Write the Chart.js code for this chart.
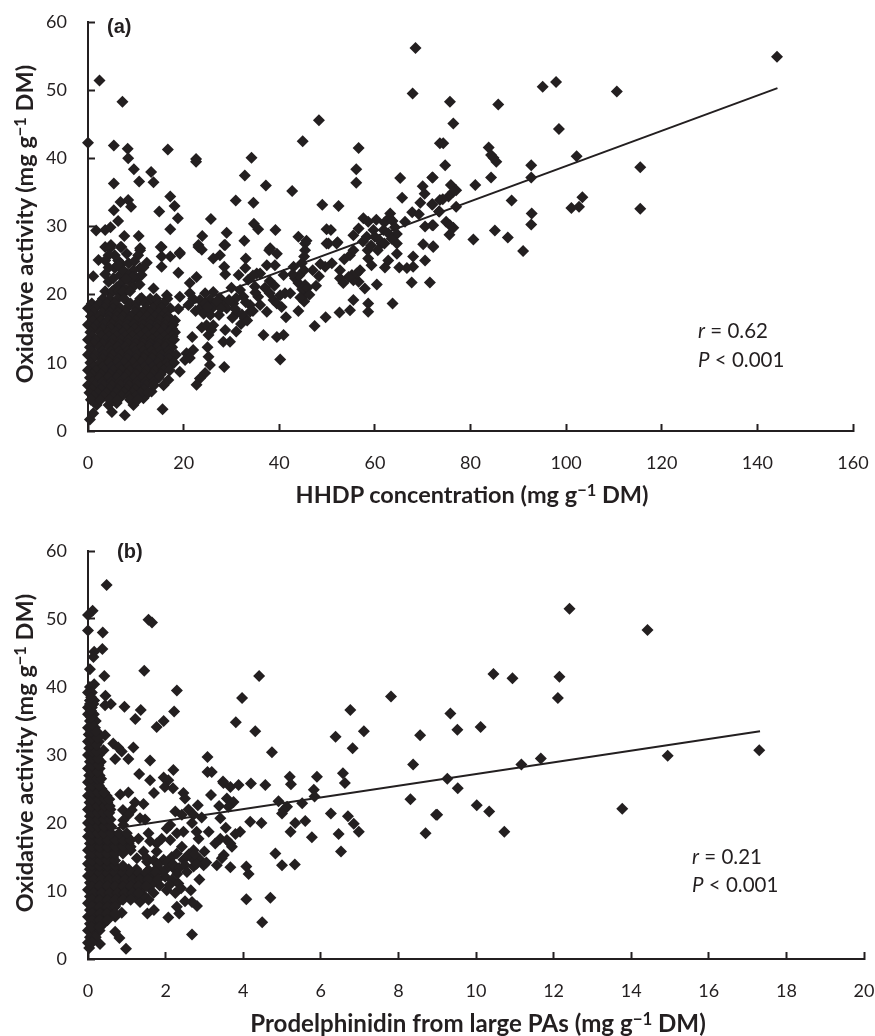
<!DOCTYPE html>
<html>
<head>
<meta charset="utf-8">
<script src="https://cdn.jsdelivr.net/npm/chart.js@4"></script>
<style>
  html, body { margin: 0; padding: 0; background: #fff; }
  body { position: relative; width: 875px; height: 1036px; overflow: hidden; font-family: Lato, sans-serif; color: #231f20; }
  canvas { position: absolute; left: 0; }
  .lbl { position: absolute; white-space: nowrap; line-height: 1; }
  .title { font-weight: 700; font-size: 23.5px; transform: translate(-50%, -50%); }
  .ytitle { transform: translate(-50%, -50%) rotate(-90deg); }
  .panel { font-family: "Liberation Sans", sans-serif; font-weight: 700; font-size: 20px; transform: translateY(-50%); }
  .stat { font-size: 20.5px; transform: translateY(-50%); }
  sup { font-size: 0.7em; line-height: 0; vertical-align: 0.42em; }
</style>
</head>
<body>
<canvas id="chartA" style="top:0" width="875" height="520"></canvas>
<canvas id="chartB" style="top:530px" width="875" height="506"></canvas>

<div class="lbl title ytitle" style="left:25px;top:224px">Oxidative activity (mg g<sup>−1</sup> DM)</div>
<div class="lbl title" style="left:472px;top:495px">HHDP concentration (mg g<sup>−1</sup> DM)</div>
<div class="lbl panel" style="left:107px;top:26px">(a)</div>
<div class="lbl stat" style="left:698px;top:330px"><i>r</i> = 0.62</div>
<div class="lbl stat" style="left:698px;top:359px"><i>P</i> &lt; 0.001</div>

<div class="lbl title ytitle" style="left:25px;top:753px">Oxidative activity (mg g<sup>−1</sup> DM)</div>
<div class="lbl title" style="left:478px;top:1023px;font-size:24.1px">Prodelphinidin from large PAs (mg g<sup>−1</sup> DM)</div>
<div class="lbl panel" style="left:117px;top:551px">(b)</div>
<div class="lbl stat" style="left:692px;top:856px"><i>r</i> = 0.21</div>
<div class="lbl stat" style="left:692px;top:884px"><i>P</i> &lt; 0.001</div>

<script>
// Panel (a): scattered points, [HHDP, oxidative activity]
const hhdpPoints = [
  [0,42.3],[2.4,51.4],[7.2,48.3],[5.4,41.9],[8.3,41.4],[8.4,40],[9.6,38.4],[10.7,36.6],[5.4,36.3],[13.2,38],
  [13.7,36.5],[16.7,41.3],[17.2,34.4],[18.1,33],[14.9,32.2],[18.8,31.2],[17.2,29.6],[25.7,31.1],[22.6,39.9],[22.6,39.5],
  [34.2,40.1],[32.8,37.5],[37.2,36],[30.9,33.8],[34.6,33.5],[42.7,35.2],[44.9,42.5],[48.3,45.6],[56.6,41.5],[56.1,38.4],
  [56.1,36.4],[49,33.2],[52.4,33],[68.5,56.2],[67.9,49.5],[65.3,37.1],[72,37.2],[70,35.9],[70.4,34.8],[65.7,34.2],
  [69.5,33.5],[72,33.2],[73.6,33.9],[67.8,32.1],[69.2,31.8],[73.4,32.2],[66.3,30.7],[63.2,31.9],[63,31.3],[62,30.6],
  [63.7,30.8],[60.3,31],[57.6,31.2],[58.6,30.7],[64.2,29.9],[64.6,28.9],[56.6,29.7],[55.5,28.7],[59.7,29.5],[58.3,28.5],
  [61.8,29.5],[62.8,29],[73.6,42.2],[70.5,30],[72.2,30.2],[1.7,29.4],[3.6,29.5],[4.7,29.9],[6.3,30.8],[5.4,32.4],
  [6.8,33.6],[8.4,33.9],[9,32.9],[7.6,28.6],[10.6,28.6],[15.2,27],[3.6,27],[4.8,27.3],[6.8,27],[10.9,26.5],
  [19.2,26.2],[23.9,28.6],[23.1,27],[29,29.1],[28.5,27.3],[32.7,27.9],[34.7,30.4],[35.6,29.6],[39.2,29.5],[44,28.5],
  [45.7,27.9],[37.9,26.5],[49.9,29.6],[50.8,29.5],[49.9,27.5],[52.2,27.7],
  [144.1,54.9],[97.9,51.2],[95.1,50.5],[110.6,49.8],[85.8,47.9],[75.7,48.3],[76.4,45.1],[98.5,44.3],[74.3,42.2],[83.8,41.6],
  [84.3,40.5],[84.8,40.1],[85.4,39.5],[74.7,39],[92.7,39],[102.2,40.3],[115.5,38.7],[92.7,37.2],[84.3,37.2],[72.1,37.2],
  [81,36.1],[75.9,36.1],[77,35.3],[76.4,35.1],[75.4,34.4],[74.2,34],[88.6,33.8],[103.4,34.3],[102.7,32.9],[101.1,32.7],
  [115.5,32.6],[77,32.9],[72,33.3],[73.5,32.2],[92.8,31.9],[92.7,30.3],[72,30.2],[74.9,30.7],[75.7,30.2],[76.4,29.8],
  [75.6,28.8],[85.1,29.4],[87.8,28.4],[80.6,28.1],[91,26.4],[72.2,27],
  [71.5,21.8],[67.7,21.8],[63.7,18.7],[70.5,25],[68,25.6],[68,24.1],[66.7,23.9],[65.1,24],[62.1,24],[62.8,25],
  [64.6,26],[64.6,27.5],[70.1,27.4],[72.2,27.1],[60.4,21.5],[57.9,20.9],[56.6,21.9],[55.5,22.1],[59.3,24.3],[58.6,25.3],
  [58.5,26.5],[55.5,19.2],[58.6,18.7],[58.6,17.5],[54.8,17.7],[52.6,17.4],[49.7,16.7],[47.4,15.4],[56.9,23.6],[56.2,23.1],
  [55.2,22.9],[54.5,22.6],[52.7,22.4],[52.7,23.6],[53.4,21.7],[54.8,25.8],[55.5,26.5],[51,24.6],[49.6,24.1],[48.3,22.7],
  [47.7,21.3],[61.4,27.5],[50.3,27.5],[52,27.5],[45.4,27.5],[45.4,26.5],[45.2,25.6],[44.7,24.6],[45.2,23.6],[43,24.1],
  [40.9,22.9],[43.3,22.4],[44,21.7],[45.4,21.4],[45.7,20.2],[45.2,19],[44,17.6],[41.2,20.2],[40.2,19.9],[42.3,20.2],
  [38.8,19.2],[39.5,18.7],[40.5,18.2],[41.4,16.7],[40.9,14.1],[39.5,13.8],[36.7,14.1],[40.2,10.5],[37.4,17.5],[35.3,23.1],
  [36,23.1],[37.4,24.3],[39.1,24.3],[39.5,26],[38.1,26.8],[33,25.3],[32.9,23.9],[31.5,22.9],[28.7,27.3],[27.6,25.8],
  [26.2,25.3],[28.5,24.1],[28.7,23],[23.1,27.3],[23.8,26.6],[15.4,27],[15.4,25.6],[17.2,25.6],[19.2,26],[15.4,24.1],
  [18.9,23.2],[22.7,22.6],[21.3,21.7],[21.3,20.2],[13.7,20.9],[19.2,19.7],[16.5,19.9],[24.5,20.2],[26.2,20.4],[27.6,19.5],
  [23.4,19.2],[25.5,19.2],[21,18.5],[18.9,17.9],[23.4,18],[26.2,18.2],[28.3,18.5],[31.8,20.7],[32.5,19.7],[30.4,18.7],
  [34.9,21.2],[33.9,18.5],[35.6,19.7],[31.1,17.3],[32.8,16.5],[33.9,17.5],[36,18.5],[23.8,15.2],[26.2,15.5],[25.2,14.1],
  [28.7,14.8],[31,14.6],[28.3,13.1],[29.7,13.1],[21.8,13.8],[25,12.3],[25.2,10.9],[25.5,9.7],[28.5,9.4],[24.5,8.5],
  [23.4,7.7],[22.7,6.8],[19.2,8.7],[15.6,3.2],[22,11.9],[20.6,11.4],[21.3,10.7],[20.3,10.4],[7.7,2.3],[5,2.8],
  [0.4,1.7],[1.1,2.6],[1.8,3.8],[9.5,3.8],[11.6,4.8],[13.3,5.8],[15.8,6.7],[16.8,7.5],[4.3,3.8],[6,4.1],
  [2.2,25.1],[1.1,22.7],[4.3,21.9],[5.6,20.7],[4.6,26.8],[5.6,25.8],[4.3,25.8],[5.6,23.9],[7,27],[8.1,26],
  [10.9,26.8],[10.5,25.8],[12.3,24.7],[10.9,23.9],[9.5,23.6],[8.1,23.1],[6.7,22.9],[11.2,22.9],[10.2,22.4],[8.8,21.9],
  [7,21.7],[5.3,22.4],[9.5,21.2],[8.1,20.7],[7,19.9],[11.2,19.5],[13.3,19],
  [3.6,25],[6.3,25],[7,24.5],[8.5,24.6],[9.7,24.9],[4.3,24],[7.2,23.7],[9.3,22.6],[10.8,21.5],[7.6,20.8],
  [6,21.1],[4.7,20.2],[11.6,24],[8,22.3],[6.2,24.3],[3.6,23],
  [22,19.4],[24.4,18.7],[26.9,19],[29,18],[31,19.5],[33,18.9],[34.5,17.6],[30.2,16.6],[32,15.7],[33.3,16.2],
  [24.8,15.5],[25.8,14.8],[27.4,17],[35,20.3],[37,21],[38,22],[44.8,20.8],[45.9,21],[46.3,20],[44.2,22.8],
  [42.8,23],[44.4,19.6],[60,28.5],[61,28],[62,27.5],
  [22.5,17.6],[24.2,17.2],[25.6,17],[29.5,19.2],[30.8,17.9],[32.2,17.1],[27.8,18],[25,18.2],[30,21],[33.5,22.2],
  [34.5,22.8],[38,20.2],[39,21.3],[47,23.6],[48.6,24.5],[53.6,25.2],[57.5,27.8],[59.2,27.2],[60.6,26.5],[63.5,28.2]
];
// dense cluster near the origin, one row per level: [y, x, x, ...]
const hhdpClusterRows = [
  [20.5,3.6,5.1,6.4,7.3,8.8],
  [19.4,3.1,4.6,6.2,7.6,10.9,13,14.3,16.6],
  [18.7,0.8,2.3,4,5.6,8.9,10.2,12,14.8,15.8],
  [18,0,1.5,3.4,5.2,6.8,8.1,10,12.2,13.6,15.4,17.2],
  [17.4,1.2,3,4.6,6.2,8,9.8,11.4,13,14.8,16.2],
  [16.8,0.6,2.4,4.4,6,7.4,9,10.8,12.3,14,15.5,16.8],
  [16.2,1,2.8,4.2,5.6,7,8.6,10,11.6,13.2,15,16.6,18.2],
  [15.6,0,1.8,3.3,5,6.6,8.2,9.6,11.5,13,14.6,16.2,17.8],
  [15,1.1,3,4.8,6.4,8,9.8,11.2,12.8,14.4,15.9,17.6],
  [14.5,0.5,2.5,4.2,5.8,7.3,9,10.6,12,13.8,15.2,17,18.2],
  [13.9,0.9,2.8,4.4,6,7.8,9.3,11,12.6,14.4,16,17.7],
  [13.4,0,1.6,3.6,5.2,6.9,8.5,10.1,11.8,13.4,15,16.7,18],
  [12.8,1.2,3,4.9,6.6,8.3,10,11.5,13.1,14.8,16.4],
  [12.3,0.4,2.4,4.5,6.2,7.8,9.6,11.2,12.9,14.5,16.2,17.6],
  [11.7,0.8,3,4.8,6.5,8.2,9.9,11.6,13.3,15,16.8],
  [11.2,0,1.5,3.3,5.1,6.9,8.6,10.3,12,13.7,15.4,17,18.4],
  [10.6,1,3,4.7,6.4,8.2,10,11.7,13.4,15.1,16.9],
  [10,0.5,2.6,4.4,6.1,7.6,9.4,11.1,12.8,14.6,16.4,18],
  [9.4,1.2,3.1,4.9,6.6,8.4,10.1,11.8,13.5,15.2,16.7],
  [8.9,0,1.7,3.5,5.3,7,8.8,10.5,12.3,14,15.8,17.1],
  [8.3,0.9,2.8,4.6,6.4,8.2,10,11.8,13.5,15.2],
  [7.8,0.4,2.4,4.2,6,7.7,9.5,11.3,13,14.8],
  [7.2,1,3,4.9,6.7,8.5,10.3,12.1,13.7],
  [6.7,0,1.4,3.3,5,6.8,8.6,10.4,12.2,13.8],
  [6.1,0.9,2.7,4.5,6.3,8.1,9.9,11.7],
  [5.6,0.3,2,3.9,5.8,7.5,9.3,11,12.6],
  [5.1,1.2,3.2,5.2,7,8.6,10],
  [4.6,0.6,2.6,4.5,6.2,8.8,10.4]
];
const hhdpFitX = [0, 144.2];
const hhdpFitY = [13, 50.3];
const hhdpTicks = [0, 20, 40, 60, 80, 100, 120, 140, 160];

// Panel (b): scattered points, [prodelphinidin, oxidative activity]
const prodelphPoints = [
  [0.48,55],[0.12,51.2],[0,50.6],[0,48.3],[0.38,48],[0.37,45.6],[0.16,45.2],[0.14,44.4],[0.05,42.6],[1.45,42.4],
  [1.56,49.9],[1.65,49.5],[0.42,41.6],[4.41,41.6],[2.29,39.5],[0.16,40.4],[0.05,40],[0.45,38.7],[3.97,38.4],[7.81,38.6],
  [0.59,37.5],[0.44,37.3],[0.94,37.1],[1.36,36.6],[2.22,36.4],[6.76,36.6],[1.22,35.3],[1.95,35],[1.77,34.1],[3.81,34.8],
  [4.31,33.5],[7.11,33.5],[6.38,32.7],[8.56,32.9],[6.82,31],[0.44,32.9],[0.65,31.7],[0.78,31.1],[1.17,31.1],[0.87,30.5],
  [4.74,30.4],[3.08,29.7],[0.7,29.4],[1.04,29.4],[1.6,29.2],[0.4,30.7],[8.38,28.6],[2.2,27.8],[3.08,27.5],[3.19,27.5],
  [1.32,27.2],[6.57,27.3],[5.2,26.8],[5.9,26.8],[1.6,26.3],[1.95,26.7],[2.07,26.3],[3.48,26.1],
  [1.98,25.3],[2.19,25.1],[5.23,25.7],[6.62,25.9],[3.49,25.9],[3.67,25.3],[3.88,25.6],[4.2,25.8],[4.57,25.6],[1.7,24.4],
  [2.46,24.4],[2.5,23.6],[3.17,24.1],[3.58,23.6],[5.82,24.9],[5.84,23.9],[8.31,23.5],[0.83,24.2],[1.04,24.5],[1.21,23],
  [1.43,22.8],[2.83,22.6],[3.38,22.5],[3.75,23.1],[3.62,22.4],[4.91,23.2],[5.52,22.9],[5.13,22.4],[5.04,21.9],[5,21.4],
  [6.26,21.4],[6.7,21],[9,21.2],[0.9,21.9],[1.13,21.9],[1.04,21.2],[0.91,20.4],[0.91,19.7],[1.34,20.7],[1.47,20.5],
  [2.25,21.7],[2.42,21.2],[2.59,22],[2.72,21.2],[2.93,20.8],[3.41,20.7],[4.18,20.2],[4.47,20],[5.6,20.3],[5.34,20],
  [6.85,19.9],[6.98,18.7],[6.46,18.4],[2.68,20],[2.12,19.7],[2.03,19.2],[3.55,19.3],[3.11,18.7],[3.92,18.7],[3.8,18.4],
  [5.22,18.7],[5.77,17.9],[8.7,18.5],[6.52,15.8],[4.83,15.5],[5,13.8],[5.33,13.9],[3.67,13.5],[4.08,13.6],[4.14,12.5],
  [4.08,8.8],[4.7,9],[4.49,5.4],[2.87,11.7],[2.65,10.1],[2.81,7.8],[2.68,8.4],[2.5,8.5],[2.68,3.6],[2.35,6.7],
  [2.07,6.1],[2.29,7.7],[1.53,6.7],[1.7,7.2],[1.34,8.4],[1.56,8.7],[0.87,6.8],[0.7,4],[0.81,3.1],[0.31,2.2],
  [0.98,1.5],[0.03,1.6],
  [1.3,17.7],[1.56,18.5],[1.6,17.3],[1.9,17.7],[1.77,17],[2.12,17.5],[2.29,18.5],[2.46,18.7],[2.85,17.7],[2.8,18.7],
  [3.28,17],[3.41,17.7],[3.58,17.5],[3.71,16.5],[3.67,17],[2.42,16.5],[2.72,16],[1.26,14.8],[1.43,15.8],[1.77,15.8],
  [1.52,14.3],[1.95,14.6],[2.16,15],[2.29,15.5],[2.46,14.6],[2.68,14.8],[2.89,14.6],[3.5,15.3],[3.32,13.8],[3.45,14.8],
  [2.98,13.8],[2.72,13.6],[1.39,12.1],[1.56,13.1],[1.77,13.3],[2.03,13.3],[2.25,13.1],[1.77,11.9],[1.99,12.1],[2.16,11.6],
  [2.33,11.1],[2.03,10.1],[2.25,9.7],[1.56,10.6],[1.69,9.7],[1.43,9.4],
  [1.5,14.9],[1.7,14.5],[1.8,13.9],[2.05,14.2],[2.2,13.9],[2.35,13.4],[2.5,13.8],[2.55,12.8],[2.3,12.5],[1.9,12.9],
  [1.6,12.4],[2.1,10.9],[1.85,10.8],[1.65,11],[1.5,11.4],[2.4,10.4],[2.8,14],[3.05,14.2],[2.6,15.4],[2.75,15.4],[3,15.8],
  [9.26,26.5],[12.41,51.5],[14.42,48.4],[10.45,41.9],[10.94,41.3],[12.15,41.5],[12.11,38.4],[9.34,36.1],[9.52,33.7],[10.12,34.1],
  [17.3,30.7],[14.94,29.9],[11.67,29.5],[11.17,28.6],[9.53,25.1],[10.02,22.6],[10.34,21.7],[10.73,18.7],[13.77,22.1],[8.97,21.2]
];
// the tower along the y axis, one row per level: [y, x, x, ...]
const prodelphClusterRows = [
  [39.2,0,0.1],[38,0.05,0.16],[37,0,0.1],[36,0,0.15],[35,0.05,0.2],[34,0,0.18],[33,0.02,0.2,0.3],[32,0,0.15,0.28],
  [31,0.03,0.18],[30,0,0.15,0.28],[29,0.05,0.2,0.33],[28,0,0.15,0.3],[27,0.03,0.18,0.3],[26,0,0.13,0.28],[25,0.05,0.2,0.35],
  [24,0,0.15,0.3,0.48],[23,0.04,0.2,0.36,0.5],[22,0,0.14,0.3,0.45,0.58],[21,0.05,0.2,0.36,0.5],[20,0,0.15,0.3,0.45],
  [19,0.03,0.2,0.35,0.5],[18,0,0.15,0.3,0.5,0.7,0.85,1],[17,0.05,0.25,0.45,0.65,0.85,1.05],[16,0,0.2,0.4,0.6,0.78,0.95,1.1],
  [15,0.05,0.25,0.45,0.65],[14,0,0.2,0.4,0.6],[13.2,0.05,0.25,0.45,0.65,0.85,1.05,1.25],[12.2,0,0.2,0.4,0.6,0.8,1,1.2,1.4],
  [11.2,0.05,0.25,0.45,0.65,0.85,1.05,1.25,1.45,1.65],[10.2,0,0.2,0.4,0.6,0.8,1,1.2,1.35],[9.2,0.05,0.25,0.45,0.65,0.85,1.05,1.2],
  [8.2,0,0.2,0.4,0.6,0.75],[7.2,0.05,0.25,0.45,0.6],[6.2,0,0.2,0.4,0.55,0.7],[5.2,0.05,0.2,0.4],[4.2,0,0.15,0.3],[3.2,0.05,0.2],[2.4,0,0.1],
  [12.7,0.1,0.3,0.5,0.7,0.9,1.1,1.3,1.5,1.75],[11.7,0.15,0.35,0.55,0.75,0.95,1.15,1.35,1.55,1.8],[10.7,0.1,0.3,0.5,0.7,0.9,1.1,1.3,1.5],
  [9.7,0.15,0.35,0.55,0.75,0.95,1.15,1.3],[8.7,0.1,0.3,0.5,0.7,0.9,1.1],[7.7,0.1,0.3,0.5,0.7],[6.7,0.1,0.3,0.5,0.7],[5.7,0.1,0.3,0.5],
  [4.7,0.1,0.3],[13.7,0.1,0.3,0.5,0.7,0.9],[14.5,0.1,0.3,0.5,0.7],[15.5,0.1,0.3,0.5,0.7,0.9],[16.5,0.1,0.3,0.5,0.7,0.9,1.1],
  [17.5,0.1,0.3,0.5,0.7,0.9,1.1],[18.5,0.1,0.25,0.4,0.6,0.8,1],[19.5,0.1,0.25,0.42,0.6],[20.5,0.1,0.25,0.42,0.58],[21.5,0.1,0.25,0.4,0.55],
  [22.5,0.1,0.25,0.42,0.56],[23.5,0.1,0.28,0.44,0.55],[24.5,0.1,0.25,0.42],[25.5,0.1,0.28],[26.5,0.08,0.24,0.34],[27.5,0.1,0.25],
  [28.5,0.1,0.27],[29.5,0.1,0.25],[30.5,0.1,0.22],[31.5,0.08,0.22],[32.5,0.1,0.25],[33.5,0.08,0.2],[34.5,0.1],[35.5,0.08],[36.5,0.08],
  [37.5,0.05,0.14],[38.5,0.08]
];
const prodelphFitX = [0, 17.32];
const prodelphFitY = [18.6, 33.5];
const prodelphTicks = [0, 2, 4, 6, 8, 10, 12, 14, 16, 18, 20];

const oxidativeTicks = [0, 10, 20, 30, 40, 50, 60];

const ink = "#231f20";

function toXY(points, rows) {
    const out = points.map(p => ({ x: p[0], y: p[1] }));
    rows.forEach(r => r.slice(1).forEach(x => out.push({ x: x, y: r[0] })));
    return out;
}

function makeChart(id, points, rows, fitX, fitY, xTicks, box) {
    const axisBase = {
        type: "linear",
        border: { display: true, color: ink, width: 2 },
        // ticks point inward, so the tick length is negative
        grid: { drawOnChartArea: false, drawTicks: true, tickLength: -7, tickColor: ink, tickWidth: 2 },
        ticks: { color: ink, font: { family: "Lato", size: 18 }, padding: 28, maxRotation: 0, autoSkip: false }
    };
    new Chart(document.getElementById(id), {
        type: "scatter",
        data: {
            datasets: [{
                data: toXY(points, rows),
                pointStyle: "rectRot",
                pointRadius: 6,
                pointBackgroundColor: ink,
                pointBorderWidth: 0,
                showLine: false,
                // points at x = 0 sit on top of the axis
                clip: false
            }, {
                data: fitX.map((x, i) => ({ x: x, y: fitY[i] })),
                showLine: true,
                pointRadius: 0,
                borderColor: ink,
                borderWidth: 2
            }]
        },
        options: {
            responsive: false,
            animation: false,
            layout: { padding: { top: box.top, right: box.right, left: 0, bottom: 0 } },
            plugins: { legend: { display: false }, tooltip: { enabled: false } },
            scales: {
                x: {
                    ...axisBase,
                    min: xTicks[0],
                    max: xTicks[xTicks.length - 1],
                    afterBuildTicks: s => { s.ticks = xTicks.map(v => ({ value: v })); },
                    afterFit: s => { s.height = box.belowAxis; s.paddingLeft = 0; s.paddingRight = 0; }
                },
                y: {
                    ...axisBase,
                    min: oxidativeTicks[0],
                    max: oxidativeTicks[oxidativeTicks.length - 1],
                    afterBuildTicks: s => { s.ticks = oxidativeTicks.map(v => ({ value: v })); },
                    afterFit: s => { s.width = box.left; s.paddingTop = 0; s.paddingBottom = 0; }
                }
            }
        }
    });
}

makeChart("chartA", hhdpPoints, hhdpClusterRows, hhdpFitX, hhdpFitY, hhdpTicks,
    { top: 22, right: 22, left: 88, belowAxis: 89 });
makeChart("chartB", prodelphPoints, prodelphClusterRows, prodelphFitX, prodelphFitY, prodelphTicks,
    { top: 21, right: 11, left: 88, belowAxis: 77 });
</script>
</body>
</html>
